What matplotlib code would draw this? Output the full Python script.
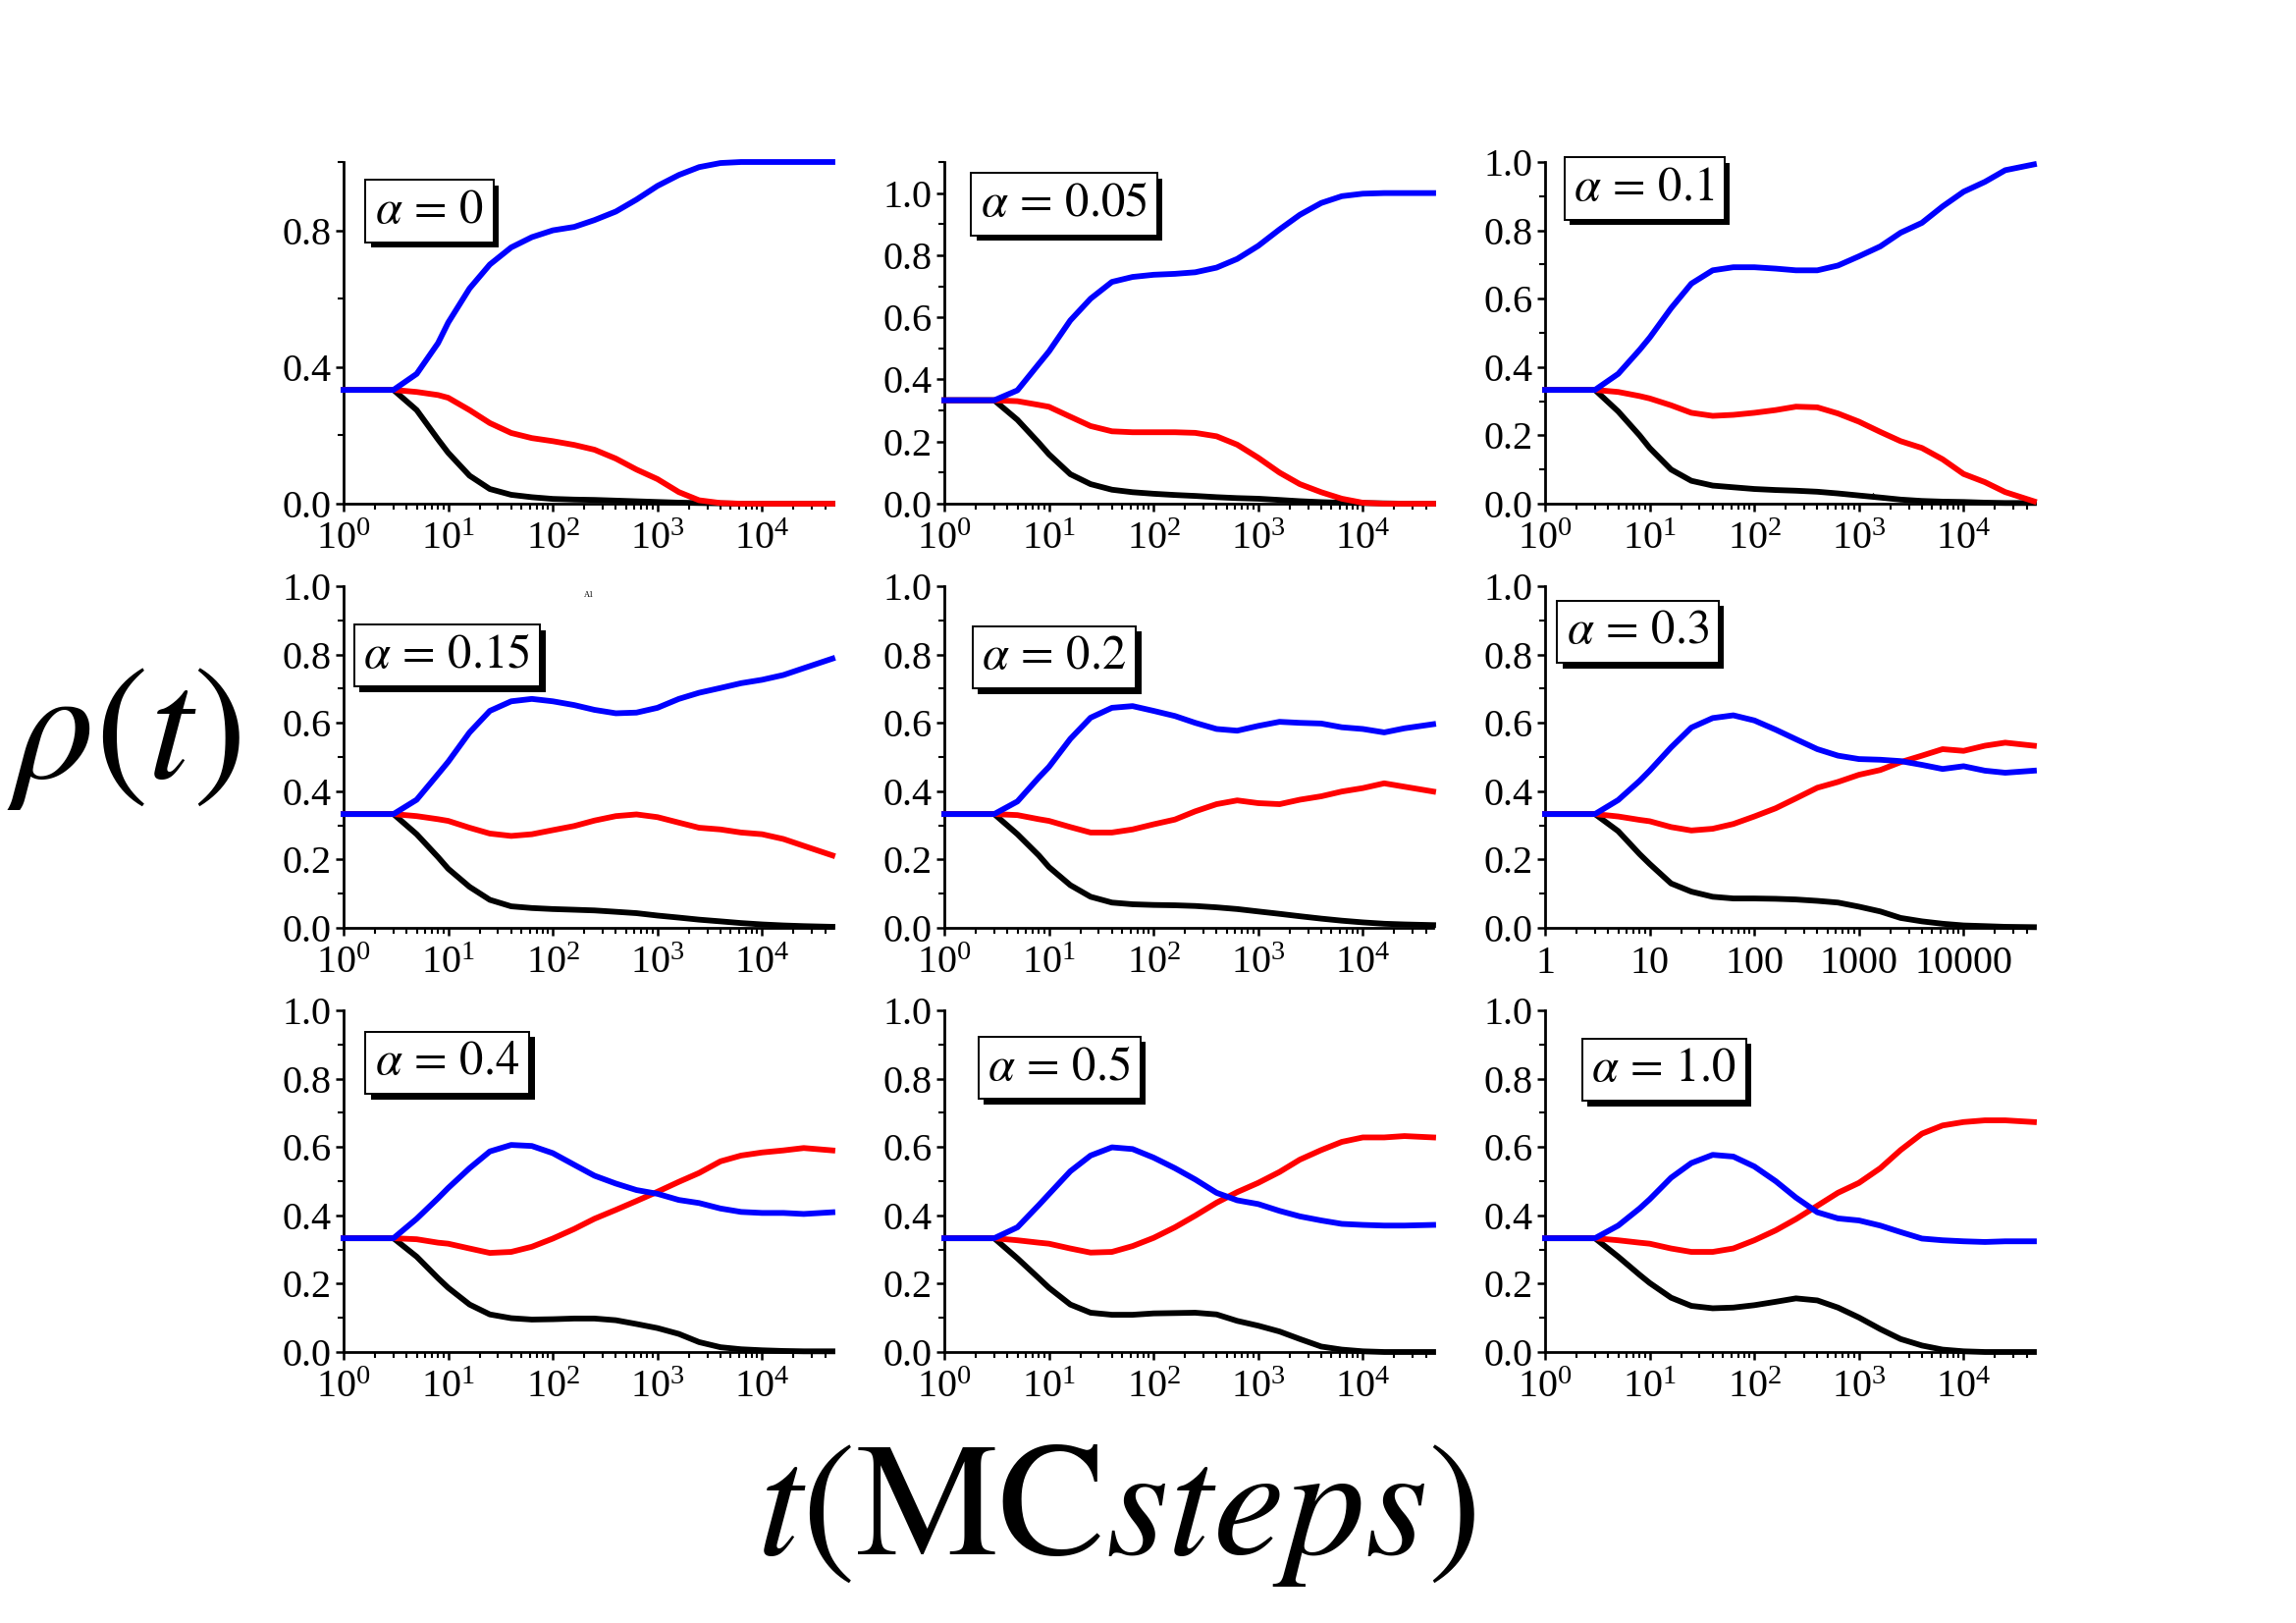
import matplotlib
matplotlib.use("Agg")
import matplotlib.pyplot as plt
import matplotlib.ticker as ticker
import matplotlib.patheffects as pe

plt.rcParams['font.family'] = 'serif'
plt.rcParams['font.serif'] = ['Liberation Serif', 'DejaVu Serif']
plt.rcParams['mathtext.fontset'] = 'stix'

# common time grid (MC steps)
t = [1, 3, 5, 8, 10, 16, 25, 40, 63, 100, 160, 250, 400, 630, 1000,
     1600, 2500, 4000, 6300, 10000, 16000, 25000, 47000]

alphas = ['0', '0.05', '0.1', '0.15', '0.2', '0.3', '0.4', '0.5', '1.0']

blue = [
    [0.333, 0.333, 0.38, 0.47, 0.53, 0.63, 0.70, 0.75, 0.78, 0.80, 0.81, 0.83, 0.855, 0.89, 0.93, 0.962, 0.985, 0.997, 1.0, 1.0, 1.0, 1.0, 1.0],
    [0.333, 0.333, 0.365, 0.45, 0.49, 0.59, 0.66, 0.714, 0.73, 0.737, 0.74, 0.745, 0.76, 0.788, 0.83, 0.883, 0.93, 0.968, 0.99, 0.998, 1.0, 1.0, 1.0],
    [0.333, 0.333, 0.38, 0.45, 0.486, 0.572, 0.644, 0.683, 0.692, 0.692, 0.688, 0.683, 0.683, 0.697, 0.724, 0.753, 0.793, 0.822, 0.87, 0.913, 0.942, 0.976, 0.993],
    [0.333, 0.333, 0.375, 0.45, 0.486, 0.572, 0.635, 0.663, 0.67, 0.663, 0.652, 0.638, 0.628, 0.63, 0.644, 0.67, 0.688, 0.702, 0.716, 0.726, 0.74, 0.76, 0.788],
    [0.333, 0.333, 0.37, 0.44, 0.471, 0.553, 0.615, 0.644, 0.649, 0.635, 0.62, 0.60, 0.582, 0.577, 0.591, 0.603, 0.60, 0.598, 0.587, 0.582, 0.572, 0.584, 0.596],
    [0.333, 0.333, 0.374, 0.43, 0.46, 0.528, 0.586, 0.614, 0.622, 0.607, 0.58, 0.552, 0.523, 0.504, 0.494, 0.492, 0.488, 0.477, 0.465, 0.473, 0.46, 0.454, 0.46],
    [0.333, 0.333, 0.39, 0.45, 0.48, 0.538, 0.587, 0.606, 0.603, 0.582, 0.548, 0.516, 0.493, 0.474, 0.463, 0.445, 0.436, 0.42, 0.41, 0.407, 0.407, 0.404, 0.409],
    [0.333, 0.333, 0.365, 0.43, 0.462, 0.529, 0.575, 0.599, 0.594, 0.569, 0.538, 0.505, 0.466, 0.444, 0.433, 0.413, 0.397, 0.385, 0.375, 0.372, 0.37, 0.37, 0.372],
    [0.333, 0.333, 0.37, 0.42, 0.447, 0.51, 0.553, 0.577, 0.572, 0.543, 0.50, 0.452, 0.409, 0.391, 0.385, 0.37, 0.351, 0.332, 0.327, 0.324, 0.322, 0.324, 0.324],
]

red = [
    [0.333, 0.333, 0.327, 0.318, 0.31, 0.274, 0.236, 0.207, 0.192, 0.183, 0.172, 0.158, 0.132, 0.10, 0.072, 0.034, 0.01, 0.002, 0.0, 0.0, 0.0, 0.0, 0.0],
    [0.333, 0.333, 0.33, 0.318, 0.312, 0.28, 0.25, 0.233, 0.23, 0.23, 0.23, 0.228, 0.217, 0.19, 0.148, 0.10, 0.063, 0.037, 0.016, 0.003, 0.0, 0.0, 0.0],
    [0.333, 0.333, 0.327, 0.315, 0.308, 0.288, 0.266, 0.257, 0.26, 0.266, 0.274, 0.284, 0.282, 0.264, 0.24, 0.21, 0.183, 0.163, 0.13, 0.087, 0.063, 0.034, 0.007],
    [0.333, 0.333, 0.327, 0.318, 0.313, 0.293, 0.276, 0.269, 0.274, 0.286, 0.298, 0.314, 0.327, 0.332, 0.324, 0.308, 0.293, 0.288, 0.279, 0.274, 0.26, 0.24, 0.212],
    [0.333, 0.333, 0.33, 0.318, 0.313, 0.295, 0.279, 0.279, 0.288, 0.303, 0.317, 0.341, 0.362, 0.373, 0.365, 0.362, 0.375, 0.385, 0.399, 0.409, 0.423, 0.413, 0.399],
    [0.333, 0.333, 0.326, 0.316, 0.312, 0.295, 0.285, 0.29, 0.304, 0.326, 0.35, 0.379, 0.41, 0.427, 0.448, 0.462, 0.485, 0.504, 0.523, 0.518, 0.533, 0.542, 0.533],
    [0.333, 0.333, 0.33, 0.32, 0.317, 0.303, 0.29, 0.293, 0.308, 0.332, 0.36, 0.39, 0.416, 0.442, 0.469, 0.498, 0.524, 0.558, 0.575, 0.584, 0.59, 0.597, 0.59],
    [0.333, 0.333, 0.327, 0.32, 0.317, 0.303, 0.291, 0.293, 0.31, 0.334, 0.365, 0.399, 0.437, 0.468, 0.495, 0.527, 0.563, 0.591, 0.615, 0.628, 0.628, 0.632, 0.628],
    [0.333, 0.333, 0.327, 0.32, 0.317, 0.303, 0.293, 0.293, 0.303, 0.327, 0.356, 0.389, 0.428, 0.466, 0.495, 0.538, 0.591, 0.639, 0.663, 0.673, 0.678, 0.678, 0.673],
]

black = [
    [0.333, 0.333, 0.274, 0.188, 0.149, 0.082, 0.043, 0.026, 0.019, 0.014, 0.012, 0.011, 0.009, 0.007, 0.005, 0.003, 0.002, 0.001, 0.0, 0.0, 0.0, 0.0, 0.0],
    [0.333, 0.333, 0.27, 0.196, 0.159, 0.095, 0.063, 0.045, 0.037, 0.032, 0.028, 0.025, 0.021, 0.018, 0.016, 0.012, 0.008, 0.005, 0.003, 0.002, 0.001, 0.0, 0.0],
    [0.333, 0.333, 0.27, 0.20, 0.163, 0.10, 0.067, 0.053, 0.048, 0.043, 0.04, 0.038, 0.035, 0.03, 0.024, 0.018, 0.012, 0.008, 0.006, 0.005, 0.003, 0.002, 0.002],
    [0.333, 0.333, 0.274, 0.207, 0.173, 0.12, 0.082, 0.063, 0.058, 0.055, 0.053, 0.051, 0.047, 0.043, 0.036, 0.03, 0.024, 0.019, 0.014, 0.01, 0.007, 0.005, 0.003],
    [0.333, 0.333, 0.274, 0.212, 0.178, 0.125, 0.091, 0.074, 0.069, 0.067, 0.066, 0.064, 0.06, 0.055, 0.048, 0.041, 0.034, 0.027, 0.021, 0.016, 0.012, 0.01, 0.008],
    [0.333, 0.333, 0.283, 0.216, 0.187, 0.13, 0.106, 0.091, 0.086, 0.086, 0.085, 0.083, 0.079, 0.074, 0.062, 0.048, 0.029, 0.019, 0.012, 0.007, 0.005, 0.003, 0.002],
    [0.333, 0.333, 0.279, 0.216, 0.188, 0.139, 0.11, 0.099, 0.095, 0.096, 0.098, 0.098, 0.093, 0.082, 0.07, 0.053, 0.029, 0.014, 0.008, 0.005, 0.003, 0.002, 0.002],
    [0.333, 0.333, 0.274, 0.216, 0.188, 0.139, 0.115, 0.109, 0.109, 0.113, 0.114, 0.115, 0.11, 0.091, 0.077, 0.06, 0.038, 0.016, 0.007, 0.002, 0.0, 0.0, 0.0],
    [0.333, 0.333, 0.279, 0.226, 0.202, 0.159, 0.135, 0.128, 0.13, 0.137, 0.147, 0.157, 0.151, 0.13, 0.101, 0.067, 0.038, 0.019, 0.007, 0.002, 0.0, 0.0, 0.0],
]

# y-axis top, major / minor tick step per panel
ytops = [1.0, 1.1, 1.0, 1.0, 1.0, 1.0, 1.0, 1.0, 1.0]
ymajor = [0.4, 0.2, 0.2, 0.2, 0.2, 0.2, 0.2, 0.2, 0.2]
yminor = [0.2, 0.1, 0.1, 0.1, 0.1, 0.1, 0.1, 0.1, 0.1]
# label box top-left corner in axes fraction
box_pos = [(0.05, 0.955), (0.06, 0.975), (0.045, 1.02),
           (0.027, 0.895), (0.063, 0.89), (0.03, 0.965),
           (0.05, 0.945), (0.075, 0.93), (0.081, 0.925)]

W, H = 2339, 1653
fig = plt.figure(figsize=(W / 100, H / 100), dpi=100)

lefts = [350, 962, 1574]
bottoms = [513, 945, 1377]
aw, ah = 498, 348

for i in range(9):
    r, c = divmod(i, 3)
    ax = fig.add_axes([lefts[c] / W, 1 - bottoms[r] / H, aw / W, ah / H])
    ax.plot(t, black[i], color='black', lw=4.2, clip_on=False, zorder=3)
    ax.plot(t, red[i], color='#ff0000', lw=4.2, clip_on=False, zorder=4)
    ax.plot(t, blue[i], color='#0000ff', lw=4.2, clip_on=False, zorder=5)

    ax.set_xscale('log')
    ax.set_xlim(1, 47000)
    ax.set_ylim(0, ytops[i])
    ax.spines['top'].set_visible(False)
    ax.spines['right'].set_visible(False)
    for s in ('left', 'bottom'):
        ax.spines[s].set_linewidth(2.0)

    ax.yaxis.set_major_locator(ticker.MultipleLocator(ymajor[i]))
    ax.yaxis.set_minor_locator(ticker.MultipleLocator(yminor[i]))
    ax.yaxis.set_major_formatter(ticker.FormatStrFormatter('%.1f'))
    ax.xaxis.set_major_locator(ticker.LogLocator(base=10, numticks=10))
    ax.xaxis.set_minor_locator(ticker.LogLocator(base=10, subs=range(2, 10), numticks=20))
    ax.xaxis.set_minor_formatter(ticker.NullFormatter())
    if i == 5:
        ax.xaxis.set_major_formatter(ticker.FuncFormatter(lambda v, p: '%d' % round(v)))

    ax.tick_params(which='major', direction='out', length=6, width=1.8,
                   labelsize=29, pad=3)
    ax.tick_params(axis='x', which='major', pad=7)
    ax.tick_params(which='minor', direction='out', length=4, width=1.5)

    txt = ax.text(box_pos[i][0] + 0.014, box_pos[i][1] - 0.035,
                  r'$\alpha\,=\,' + alphas[i] + '$', transform=ax.transAxes,
                  ha='left', va='top', fontsize=35, zorder=10,
                  bbox=dict(boxstyle='square,pad=0.2', facecolor='white',
                            edgecolor='black', linewidth=1.4))
    txt.get_bbox_patch().set_path_effects(
        [pe.SimplePatchShadow(offset=(4, -4), shadow_rgbFace='black', alpha=1.0),
         pe.Normal()])

# stray small marks present in the original
fig.text(600 / W, 1 - 606 / H, 'A1', fontsize=6, ha='center', va='center')
fig.text(1908 / W, 1 - 504 / H, 'A', fontsize=5, ha='center', va='center')

fig.text(0.054, 0.545, r'$\rho(t)$', fontsize=118, ha='center', va='center')
fig.text(0.486, 0.066, r'$t(\mathrm{MC}steps)$', fontsize=118, ha='center', va='center')

fig.savefig('out.png', dpi=100, facecolor='white')
